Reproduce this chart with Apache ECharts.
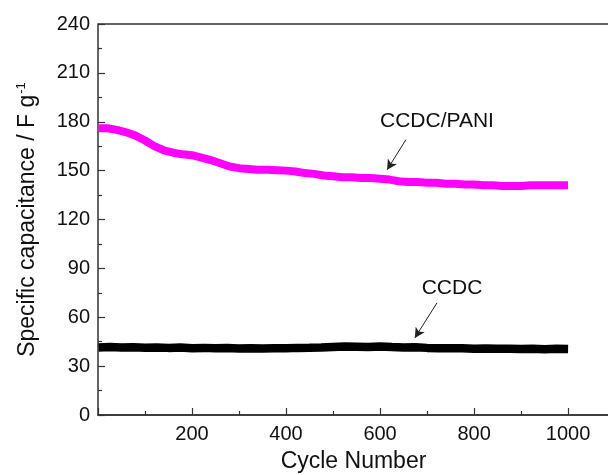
<!DOCTYPE html>
<html><head><meta charset="utf-8">
<script src="https://cdn.jsdelivr.net/npm/echarts@6/dist/echarts.min.js"></script>
<style>html,body{margin:0;padding:0;background:#fff;overflow:hidden}#c{width:608px;height:474px}</style>
</head><body><div id="c"></div>
<script>
const paniCycles = [1,20,40,60,80,100,120,140,160,180,200,220,240,260,280,300,320,340,360,380,400,420,440,460,480,500,520,540,560,580,600,620,640,660,680,700,720,740,760,780,800,820,840,860,880,900,920,940,960,980,1000];
const paniValues = [176,176,175,173.5,171.5,168.5,165,162.5,161,160,159.5,158,156.5,154.5,152.5,151.5,151,150.5,150.5,150.3,150,149.5,148.5,148,147,146.5,146,146,145.5,145.5,145,144.5,143.5,143,143,142.5,142.5,142,142,141.5,141.5,141,141,140.5,140.5,140.5,141,141,141,141,141];
const ccdcCycles = [1,25,50,75,100,125,150,175,200,225,250,275,300,325,350,375,400,425,450,475,500,525,550,575,600,625,650,675,700,725,750,775,800,825,850,875,900,925,950,975,1000];
const ccdcValues = [41.5,41.8,41.4,41.6,41.3,41.5,41.2,41.4,41,41.2,40.9,41.1,40.8,41,40.8,41,40.9,41.2,41.3,41.5,41.8,42,41.9,41.8,42,41.7,41.5,41.6,41.2,41,40.9,41,40.7,40.8,40.6,40.7,40.5,40.6,40.4,40.6,40.5];
const xTicks = {min:0, max:1087, interval:200};
const yTicks = {min:0, max:240, interval:30};

const toPairs = (xs, ys) => xs.map((x,i)=>[x, ys[i]]);
const chart = echarts.init(document.getElementById('c'), null, {renderer:'canvas'});
const axisCol = '#333';
const font = 'Liberation Sans, Arial, sans-serif';
chart.setOption({
  animation:false,
  grid:{left:98, top:24, width:511, height:391, outerBoundsMode:'none', containLabel:false,
        show:true, borderColor:axisCol, borderWidth:1.5, backgroundColor:'transparent'},
  xAxis:{type:'value', min:xTicks.min, max:xTicks.max, interval:xTicks.interval,
    name:'Cycle Number', nameLocation:'middle', nameGap:35,
    nameTextStyle:{fontFamily:font, fontSize:23, color:'#111'},
    axisLine:{lineStyle:{color:axisCol, width:1.5}},
    axisTick:{inside:true, length:7, lineStyle:{color:axisCol, width:1.2}},
    minorTick:{show:true, splitNumber:2, length:4, lineStyle:{color:axisCol, width:1.2}},
    splitLine:{show:false},
    axisLabel:{fontFamily:font, fontSize:20, color:'#111', margin:9, showMaxLabel:false,
      formatter:v => (v===0 || v>1000) ? '' : String(v)}},
  yAxis:{type:'value', min:yTicks.min, max:yTicks.max, interval:yTicks.interval,
    name:'{m|Specific capacitance / F g}{s|-1}', nameLocation:'middle', nameGap:58,
    nameTextStyle:{rich:{m:{fontFamily:font, fontSize:23, color:'#111'}, s:{fontFamily:font, fontSize:13, color:'#111', verticalAlign:'top', padding:[0,0,12,1]}}},
    axisLine:{show:false, onZero:false},
    axisTick:{show:true, inside:true, length:7, lineStyle:{color:axisCol, width:1.2}},
    minorTick:{show:true, splitNumber:2, length:4, lineStyle:{color:axisCol, width:1.2}},
    splitLine:{show:false},
    axisLabel:{fontFamily:font, fontSize:20, color:'#111', margin:8}},
  series:[
    {type:'line', name:'CCDC/PANI', data:toPairs(paniCycles, paniValues), showSymbol:false, symbol:'none',
     lineStyle:{color:'#ff00ff', width:8}, z:3,
     markPoint:{symbol:'circle', symbolSize:0, silent:true,
       label:{show:true, formatter:'CCDC/PANI', fontFamily:font, fontSize:21, color:'#111'},
       data:[{coord:[721,180.5]}]},
     markLine:{silent:true, symbol:['none','arrow'], symbolSize:[8,10], label:{show:false},
       lineStyle:{color:'#222', width:1, type:'solid'},
       data:[[{coord:[655,169]},{coord:[615,150.5]}]]}},
    {type:'line', name:'CCDC', data:toPairs(ccdcCycles, ccdcValues), showSymbol:false, symbol:'none',
     lineStyle:{color:'#000', width:8.5}, z:3,
     markPoint:{symbol:'circle', symbolSize:0, silent:true,
       label:{show:true, formatter:'CCDC', fontFamily:font, fontSize:21, color:'#111'},
       data:[{coord:[753,78]}]},
     markLine:{silent:true, symbol:['none','arrow'], symbolSize:[8,10], label:{show:false},
       lineStyle:{color:'#222', width:1, type:'solid'},
       data:[[{coord:[721,68.8]},{coord:[674,47.3]}]]}}
  ]
});
</script></body></html>
